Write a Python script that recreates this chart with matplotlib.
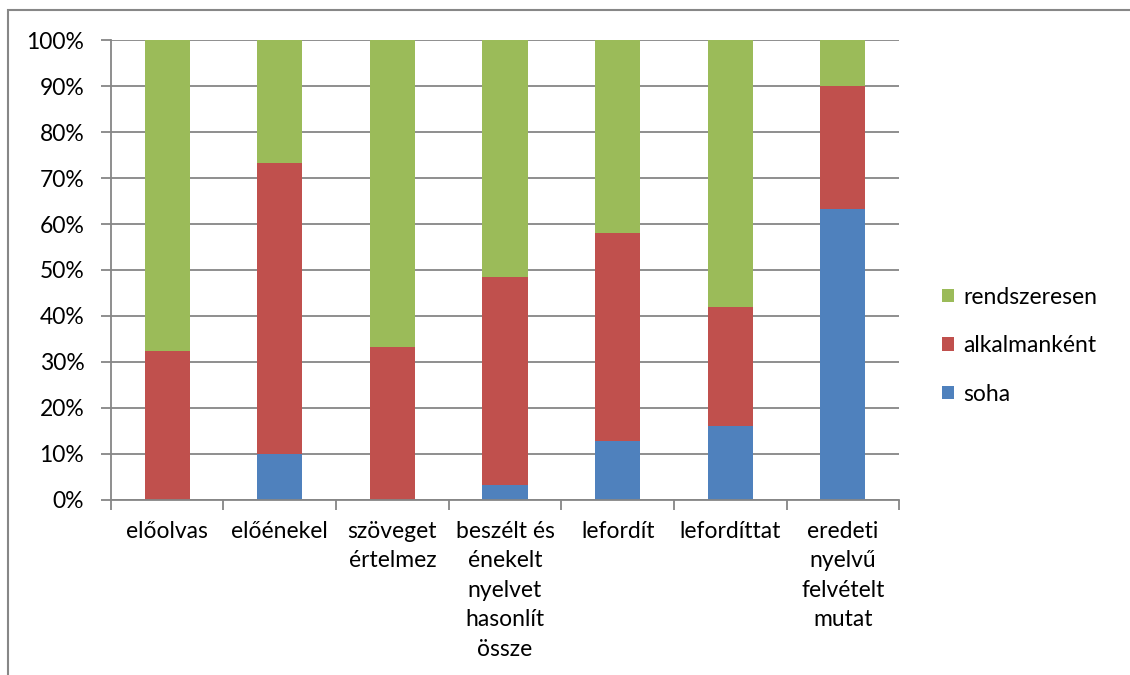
import matplotlib.pyplot as plt
from matplotlib.patches import Rectangle
import numpy as np

plt.rcParams['font.family'] = ['Lato', 'DejaVu Sans']

categories = ['előolvas', 'előénekel', 'szöveget\nértelmez',
              'beszélt és\nénekelt\nnyelvet\nhasonlít\nössze',
              'lefordít', 'lefordíttat', 'eredeti\nnyelvű\nfelvételt\nmutat']
soha = [0.0, 10.0, 0.0, 3.2, 12.9, 16.1, 63.3]
alkalmankent = [32.3, 63.3, 33.3, 45.2, 45.2, 25.8, 26.7]
rendszeresen = [67.7, 26.7, 66.7, 51.6, 41.9, 58.1, 10.0]

series = [('soha', soha, '#4F81BD'),
          ('alkalmanként', alkalmankent, '#C0504D'),
          ('rendszeresen', rendszeresen, '#9BBB59')]

grid_c = '#868686'
fs = 16.5

fig = plt.figure(figsize=(11.3, 6.75), dpi=100)
ax = fig.add_axes([0.098, 0.2593, 0.6978, 0.6814])

x = np.arange(len(categories))
bottom = np.zeros(len(categories))
handles = []
for name, vals, col in series:
    b = ax.bar(x, vals, 0.4, bottom=bottom, color=col, label=name, zorder=3)
    handles.append(b)
    bottom += np.array(vals)

ax.set_xlim(-0.5, len(categories) - 0.5)
ax.set_ylim(0, 100)
ax.set_yticks(np.arange(0, 101, 10))
ax.set_yticklabels([f'{v}%' for v in range(0, 101, 10)], fontsize=fs)
ax.yaxis.grid(True, color=grid_c, linewidth=1.3, zorder=0)

# category borders get the tick marks, names sit between them
ax.set_xticks(np.arange(-0.5, len(categories), 1.0))
ax.set_xticklabels([])
ax.set_xticks(x, minor=True)
ax.set_xticklabels(categories, minor=True, fontsize=fs, linespacing=1.5, va='top')
ax.tick_params(axis='x', which='minor', length=0, pad=15)
ax.tick_params(axis='x', which='major', length=7, width=1.3, color=grid_c, direction='out')
ax.tick_params(axis='y', length=7, width=1.3, color=grid_c, pad=12)

for s in ['top', 'right']:
    ax.spines[s].set_visible(False)
for s in ['left', 'bottom']:
    ax.spines[s].set_color(grid_c)
    ax.spines[s].set_linewidth(1.3)
    ax.spines[s].set_zorder(4)

leg = fig.legend(handles[::-1], [s[0] for s in series[::-1]],
                 loc='center left', bbox_to_anchor=(0.815, 0.488),
                 frameon=False, fontsize=fs, handlelength=0.55, handleheight=0.55,
                 handletextpad=0.4, labelspacing=1.2)

# outer frame of the chart area
fig.patches.append(Rectangle((8 / 1130, -0.1), 1.2, 1.1 - 10 / 675,
                             transform=fig.transFigure, fill=False,
                             edgecolor='#878787', linewidth=1.5))

fig.savefig('out.png', dpi=100)
